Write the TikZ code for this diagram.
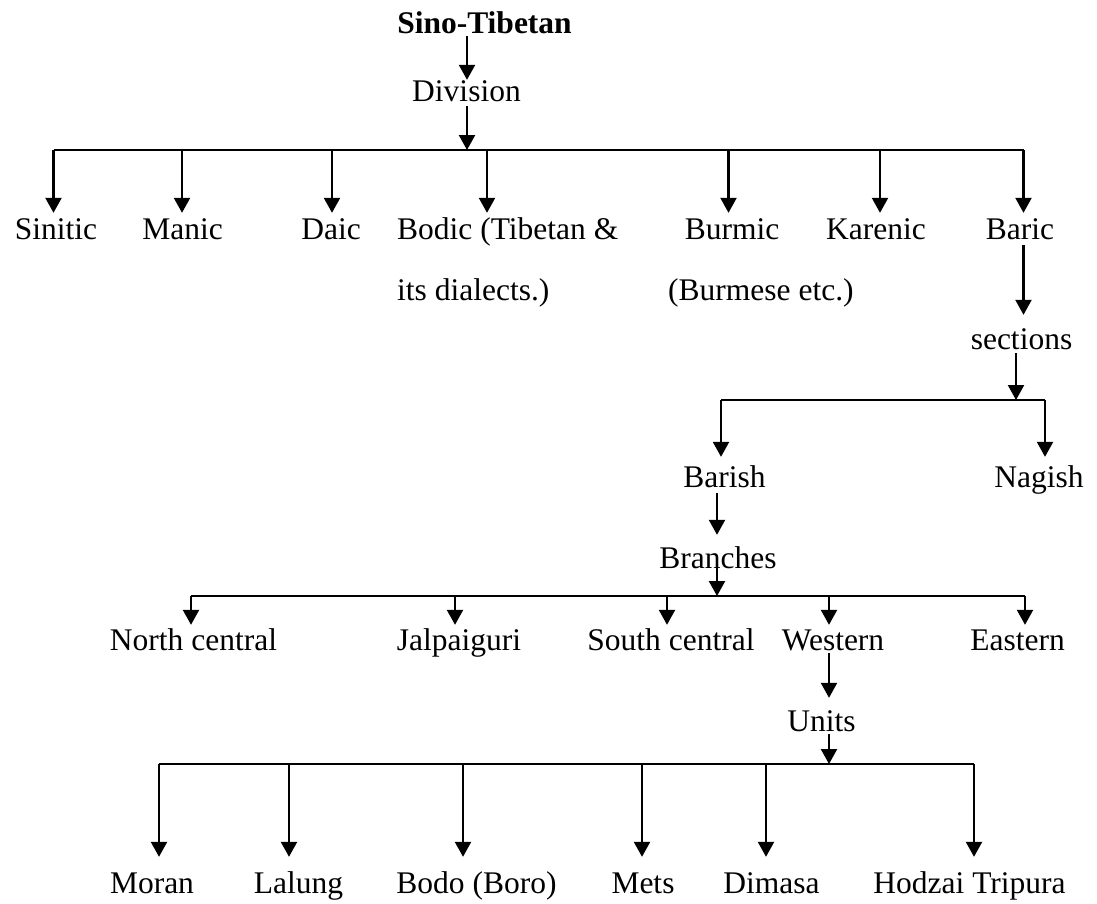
\documentclass[tikz,border=0pt]{standalone}
\usepackage{fontspec}
\setmainfont{Liberation Serif}
\usetikzlibrary{arrows.meta}
\begin{document}
\begin{tikzpicture}[x=1pt,y=-1pt,
  lbl/.style={inner sep=0pt, anchor=base, font=\fontsize{31.5}{36}\selectfont},
  lblw/.style={lbl, anchor=base west},
  arr/.style={-{Triangle[length=15pt 0 0,width=16pt 0 0]}, line width=2.3pt},
  bus/.style={line width=2.3pt},
]
\useasboundingbox (0,0) rectangle (1097,903);

% ---- root and division ----
\node[lbl, font=\fontsize{31.5}{36}\selectfont\bfseries, text depth=3pt] (st) at (484.5,33) {Sino-Tibetan};
\node[lbl, text height=21pt, text depth=5pt] (div) at (466.5,101) {Division};

% ---- first bus ----
\coordinate (b1)  at (467,150);
\coordinate (b1a) at (53.5,150);
\coordinate (b1b) at (182,150);
\coordinate (b1c) at (332,150);
\coordinate (b1d) at (487,150);
\coordinate (b1e) at (728.5,150);
\coordinate (b1f) at (880,150);
\coordinate (b1g) at (1023.5,150);

\node[lbl, text height=26pt] (sin) at (56,239) {Sinitic};
\node[lbl, text height=26pt] (man) at (182.5,239) {Manic};
\node[lbl, text height=26pt] (dai) at (331,239) {Daic};
\node[lblw, text height=26pt] (bod) at (397,239) {Bodic (Tibetan \&};
\node[lblw] (bod2) at (397,300) {its dialects.)};
\node[lbl, text height=26pt] (bur) at (732,239) {Burmic};
\node[lblw] (bur2) at (668,300) {(Burmese etc.)};
\node[lbl, text height=26pt] (kar) at (876,239) {Karenic};
\node[lbl, text height=26pt, text depth=6pt] (bar) at (1020,239) {Baric};

\draw[arr] (b1 |- st.south) -- (b1 |- div.north);
\draw[arr] (b1 |- div.south) -- (b1);
\draw[bus] (b1a) -- (b1g);
\draw[arr] (b1a) -- (b1a |- sin.north);
\draw[arr] (b1b) -- (b1b |- man.north);
\draw[arr] (b1c) -- (b1c |- dai.north);
\draw[arr] (b1d) -- (b1d |- bod.north);
\draw[arr] (b1e) -- (b1e |- bur.north);
\draw[arr] (b1f) -- (b1f |- kar.north);
\draw[arr] (b1g) -- (b1g |- bar.north);

% ---- sections ----
\node[lbl, text height=34pt, text depth=4pt] (sec) at (1021.5,349) {sections};
\draw[arr] (b1g |- bar.south) -- (b1g |- sec.north);

\coordinate (b2)  at (1016,400);
\coordinate (b2a) at (721,400);
\coordinate (b2b) at (1045,400);
\node[lbl, text height=30pt, text depth=6pt] (bsh) at (724.5,487) {Barish};
\node[lbl, text height=30pt] (nag) at (1039,487) {Nagish};

\draw[arr] (b2 |- sec.south) -- (b2);
\draw[bus] (b2a) -- (b2b);
\draw[arr] (b2a) -- (b2a |- bsh.north);
\draw[arr] (b2b) -- (b2b |- nag.north);

% ---- branches ----
\coordinate (b3)  at (717,596);
\node[lbl, text height=33pt] (br) at (718,568) {Branches};
\coordinate (brout) at (717,563);
\draw[arr] (b3 |- bsh.south) -- (b3 |- br.north);
\draw[arr] (brout) -- (b3);

\coordinate (b3a) at (191,596);
\coordinate (b3b) at (455,596);
\coordinate (b3c) at (667,596);
\coordinate (b3d) at (829,596);
\coordinate (b3e) at (1025,596);

\node[lbl, text height=25pt] (nc) at (193.5,650) {North central};
\node[lbl, text height=25pt] (jal) at (459,650) {Jalpaiguri};
\node[lbl, text height=25pt] (sc) at (671,650) {South central};
\node[lbl, text height=25pt, text depth=3pt] (wes) at (833,650) {Western};
\node[lbl, text height=25pt] (eas) at (1017.5,650) {Eastern};

\draw[bus] (b3a) -- (b3e);
\draw[arr] (b3a) -- (b3a |- nc.north);
\draw[arr] (b3b) -- (b3b |- jal.north);
\draw[arr] (b3c) -- (b3c |- sc.north);
\draw[arr] (b3d) -- (b3d |- wes.north);
\draw[arr] (b3e) -- (b3e |- eas.north);

% ---- units ----
\node[lbl, text height=33pt, text depth=3pt] (uni) at (821.5,731) {Units};
\draw[arr] (b3d |- wes.south) -- (b3d |- uni.north);

\coordinate (b4)  at (829,764);
\coordinate (b4a) at (159,764);
\coordinate (b4b) at (289,764);
\coordinate (b4c) at (463,764);
\coordinate (b4d) at (642,764);
\coordinate (b4e) at (766,764);
\coordinate (b4f) at (974,764);

\node[lbl, text height=36pt] (mor) at (152,893) {Moran};
\node[lbl, text height=36pt] (lal) at (298.5,893) {Lalung};
\node[lbl, text height=36pt] (bodo) at (476.5,893) {Bodo (Boro)};
\node[lbl, text height=36pt] (met) at (643,893) {Mets};
\node[lbl, text height=36pt] (dim) at (771.5,893) {Dimasa};
\node[lbl, text height=36pt] (hod) at (969.5,893) {Hodzai Tripura};

\draw[arr] (b4 |- uni.south) -- (b4);
\draw[bus] (b4a) -- (b4f);
\draw[arr] (b4a) -- (b4a |- mor.north);
\draw[arr] (b4b) -- (b4b |- lal.north);
\draw[arr] (b4c) -- (b4c |- bodo.north);
\draw[arr] (b4d) -- (b4d |- met.north);
\draw[arr] (b4e) -- (b4e |- dim.north);
\draw[arr] (b4f) -- (b4f |- hod.north);
\end{tikzpicture}
\end{document}
